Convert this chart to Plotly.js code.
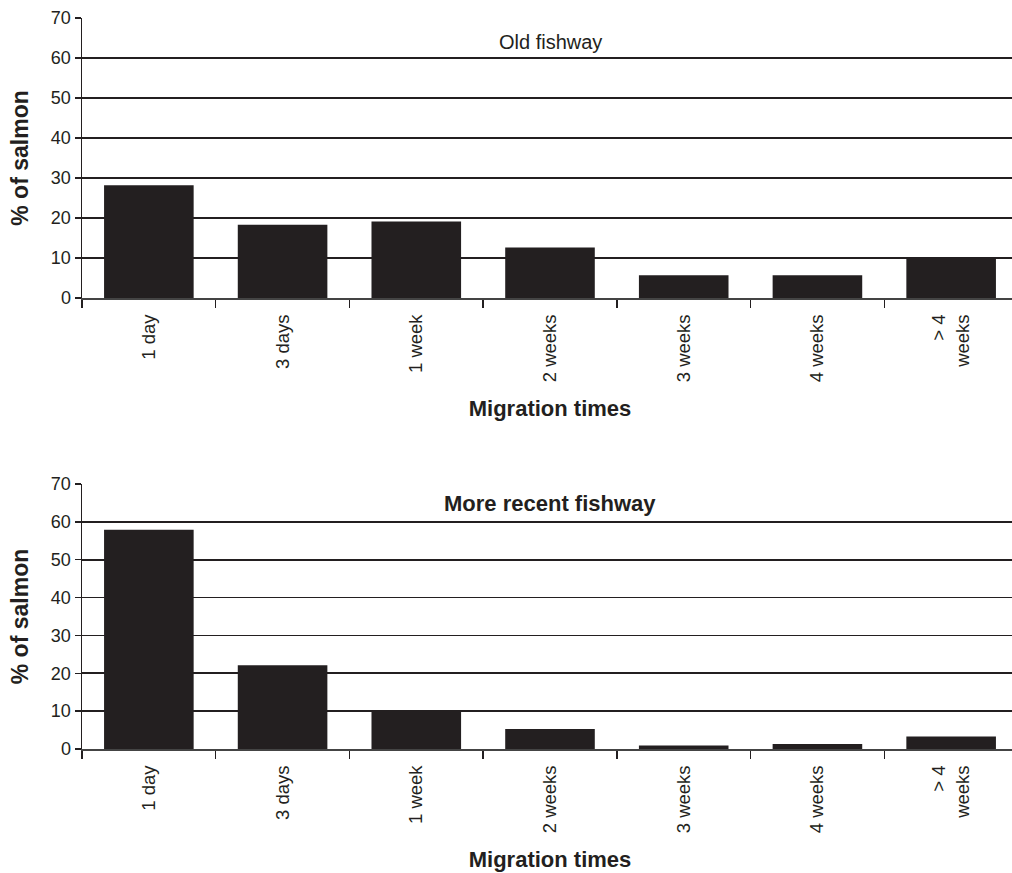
<!DOCTYPE html>
<html>
<head>
<meta charset="utf-8">
<script src="https://cdn.plot.ly/plotly-3.0.1.min.js"></script>
<style>
  html, body { margin: 0; padding: 0; background: #fff; overflow: hidden; width: 1012px; height: 873px; }
  #chart { width: 1020px; height: 873px; }
</style>
</head>
<body>
<div id="chart"></div>
<script>
const categories = ["1 day", "3 days", "1 week", "2 weeks", "3 weeks", "4 weeks", "> 4<br>weeks"];
const oldFishway = [28.2, 18.3, 19.1, 12.6, 5.7, 5.7, 10.1];
const recentFishway = [57.9, 22.1, 9.8, 5.3, 0.9, 1.3, 3.3];
const yTicks = [0, 10, 20, 30, 40, 50, 60, 70];
const panelTitles = ["Old fishway", "More recent fishway"];
const xTitle = "Migration times";
const yTitle = "% of salmon";

const ink = "#231f20";
const narrow = "Liberation Sans Narrow, Arial Narrow, Liberation Sans, Arial, sans-serif";
const regular = "Liberation Sans, Arial, sans-serif";

const barStyle = { color: ink, line: { color: ink, width: 0 } };

const data = [
  { type: "bar", x: categories, y: oldFishway, xaxis: "x", yaxis: "y", marker: barStyle, hoverinfo: "x+y" },
  { type: "bar", x: categories, y: recentFishway, xaxis: "x2", yaxis: "y2", marker: barStyle, hoverinfo: "x+y" }
];

function xAxis(anchor) {
  return {
    anchor: anchor,
    domain: [0, 1],
    type: "category",
    categoryorder: "array",
    categoryarray: categories,
    tickson: "boundaries",
    ticks: "outside",
    ticklen: 8,
    tickwidth: 1.5,
    tickcolor: ink,
    showline: true,
    linecolor: "#444",
    linewidth: 2,
    showgrid: false,
    tickangle: -90,
    ticklabelstandoff: 7,
    tickfont: { family: regular, size: 18.5, color: ink },
    title: { text: "<b>" + xTitle + "</b>", font: { family: narrow, size: 22, color: ink }, standoff: 19 },
    automargin: false
  };
}

function yAxis(domain, anchor) {
  return {
    anchor: anchor,
    domain: domain,
    range: [0, 70],
    tickvals: yTicks,
    ticktext: yTicks.map(String),
    ticks: "outside",
    ticklen: 6,
    tickwidth: 1.5,
    tickcolor: ink,
    showline: true,
    linecolor: ink,
    linewidth: 1.5,
    showgrid: true,
    gridcolor: ink,
    gridwidth: 1.6,
    zeroline: false,
    tickfont: { family: narrow, size: 18, color: ink },
    title: { text: "<b>" + yTitle + "</b>", font: { family: regular, size: 23, color: ink }, standoff: 16 },
    automargin: false
  };
}

const layout = {
  width: 1020,
  height: 873,
  margin: { l: 82, r: 2, t: 0, b: 0 },
  paper_bgcolor: "#fff",
  plot_bgcolor: "#fff",
  showlegend: false,
  bargap: 0.33,
  xaxis: xAxis("y"),
  yaxis: yAxis([1 - 298 / 873, 1 - 18 / 873], "x"),
  xaxis2: xAxis("y2"),
  yaxis2: yAxis([1 - 749 / 873, 1 - 484 / 873], "x2"),
  annotations: [
    { text: panelTitles[0], xref: "x domain", yref: "y domain", x: 0.5, y: 1 - 24 / 280, xanchor: "center", yanchor: "middle", showarrow: false, font: { family: narrow, size: 20, color: ink } },
    { text: "<b>" + panelTitles[1] + "</b>", xref: "x2 domain", yref: "y2 domain", x: 0.5, y: 1 - 19 / 265, xanchor: "center", yanchor: "middle", showarrow: false, font: { family: narrow, size: 22, color: ink } }
  ]
};

Plotly.newPlot("chart", data, layout, { displayModeBar: false, staticPlot: true });
</script>
</body>
</html>
